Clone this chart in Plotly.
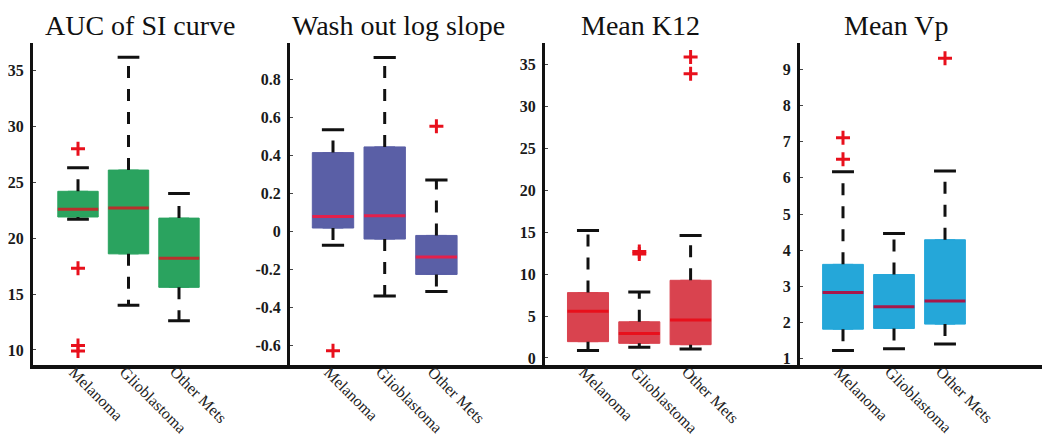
import plotly.graph_objects as go

W, H = 1050, 437

categories = ["Melanoma", "Glioblastoma", "Other Mets"]
titles = ["AUC of SI curve", "Wash out log slope", "Mean K12", "Mean Vp"]

# per-panel box statistics (one value per category)
auc_q1 = [21.9, 18.6, 15.6]
auc_med = [22.6, 22.7, 18.2]
auc_q3 = [24.2, 26.1, 21.8]
auc_lo = [21.7, 14.0, 12.6]
auc_hi = [26.3, 36.2, 24.0]
auc_out = [[28.0, 17.3, 10.4, 9.9], [], []]

wash_q1 = [0.018, -0.04, -0.226]
wash_med = [0.079, 0.082, -0.134]
wash_q3 = [0.414, 0.444, -0.021]
wash_lo = [-0.073, -0.339, -0.316]
wash_hi = [0.534, 0.913, 0.27]
wash_out = [[-0.626], [], [0.552]]

k12_q1 = [1.94, 1.74, 1.58]
k12_med = [5.58, 2.92, 4.51]
k12_q3 = [7.79, 4.31, 9.26]
k12_lo = [0.87, 1.26, 1.07]
k12_hi = [15.19, 7.87, 14.6]
k12_out = [[], [12.4, 12.7], [35.9, 33.9]]

vp_q1 = [1.82, 1.84, 1.96]
vp_med = [2.83, 2.44, 2.6]
vp_q3 = [3.61, 3.33, 4.29]
vp_lo = [1.23, 1.28, 1.41]
vp_hi = [6.17, 4.46, 6.19]
vp_out = [[7.11, 6.51], [], [9.30]]

panels = [
    dict(q1=auc_q1, med=auc_med, q3=auc_q3, lo=auc_lo, hi=auc_hi, out=auc_out,
         fill="#2aa35f", median="#b8302c", yrange=[8.69, 37.5],
         tickvals=[10, 15, 20, 25, 30, 35], ticktext=["10", "15", "20", "25", "30", "35"],
         px=(25, 282), x0=70, unit=50.5, tcx=132),
    dict(q1=wash_q1, med=wash_med, q3=wash_q3, lo=wash_lo, hi=wash_hi, out=wash_out,
         fill="#5a5fa6", median="#e3204c", yrange=[-0.699, 0.991],
         tickvals=[-0.6, -0.4, -0.2, 0, 0.2, 0.4, 0.6, 0.8],
         ticktext=["-0.6", "-0.4", "-0.2", "0", "0.2", "0.4", "0.6", "0.8"],
         px=(282, 537), x0=325, unit=51.7, tcx=390),
    dict(q1=k12_q1, med=k12_med, q3=k12_q3, lo=k12_lo, hi=k12_hi, out=k12_out,
         fill="#d9434f", median="#e8101c", yrange=[-0.79, 37.6],
         tickvals=[0, 5, 10, 15, 20, 25, 30, 35], ticktext=["0", "5", "10", "15", "20", "25", "30", "35"],
         px=(537, 792), x0=580, unit=51.3, tcx=632),
    dict(q1=vp_q1, med=vp_med, q3=vp_q3, lo=vp_lo, hi=vp_hi, out=vp_out,
         fill="#25a7d9", median="#a8174a", yrange=[0.844, 9.73],
         tickvals=[1, 2, 3, 4, 5, 6, 7, 8, 9], ticktext=[str(v) for v in range(1, 10)],
         px=(792, 1040), x0=835, unit=51.0, tcx=888),
]

BOX_W = 0.8
CAP_W = 0.43
ydom = [1 - 359 / H, 1 - 35 / H]
SERIF = "Liberation Serif, Times New Roman, serif"

fig = go.Figure()
layout = dict(width=W, height=H, margin=dict(l=0, r=0, t=0, b=0),
              paper_bgcolor="white", plot_bgcolor="white", showlegend=False,
              boxmode="overlay", annotations=[])

for i, p in enumerate(panels):
    n = i + 1
    xa = "x" if n == 1 else f"x{n}"
    ya = "y" if n == 1 else f"y{n}"
    xs = list(range(len(categories)))

    # whiskers (dashed)
    wx, wy = [], []
    for k in xs:
        wx += [k, k, None, k, k, None]
        wy += [p["q3"][k], p["hi"][k], None, p["q1"][k], p["lo"][k], None]
    fig.add_trace(go.Scatter(x=wx, y=wy, mode="lines", xaxis=xa, yaxis=ya,
                             line=dict(color="#111111", width=3, dash="12px,11px"),
                             hoverinfo="skip"))
    # caps
    cx, cy = [], []
    for k in xs:
        for v in (p["hi"][k], p["lo"][k]):
            cx += [k - CAP_W / 2, k + CAP_W / 2, None]
            cy += [v, v, None]
    fig.add_trace(go.Scatter(x=cx, y=cy, mode="lines", xaxis=xa, yaxis=ya,
                             line=dict(color="#111111", width=3), hoverinfo="skip"))
    # boxes
    fig.add_trace(go.Box(x=xs, q1=p["q1"], median=p["q1"], q3=p["q3"],
                         lowerfence=p["q1"], upperfence=p["q3"],
                         width=BOX_W, fillcolor=p["fill"],
                         line=dict(color=p["fill"], width=1),
                         xaxis=xa, yaxis=ya, hoverinfo="skip"))
    # median lines
    mx, my = [], []
    for k in xs:
        mx += [k - BOX_W / 2, k + BOX_W / 2, None]
        my += [p["med"][k], p["med"][k], None]
    fig.add_trace(go.Scatter(x=mx, y=my, mode="lines", xaxis=xa, yaxis=ya,
                             line=dict(color=p["median"], width=3), hoverinfo="skip"))
    # outliers
    ox, oy = [], []
    for k in xs:
        for v in p["out"][k]:
            ox.append(k)
            oy.append(v)
    if ox:
        fig.add_trace(go.Scatter(x=ox, y=oy, mode="markers", xaxis=xa, yaxis=ya,
                                 marker=dict(symbol="cross-thin", size=10,
                                             line=dict(color="#e8101c", width=3)),
                                 hoverinfo="skip"))

    l_px, r_px = p["px"]
    left = -(p["x0"] - l_px) / p["unit"]
    right = left + (r_px - l_px) / p["unit"]
    layout["xaxis" if n == 1 else f"xaxis{n}"] = dict(
        domain=[l_px / W, r_px / W], range=[left, right], anchor=ya,
        tickvals=xs, ticktext=categories, showticklabels=False,
        showline=True, linecolor="#111111", linewidth=4, showgrid=False, zeroline=False,
        ticks="", fixedrange=True)
    layout["yaxis" if n == 1 else f"yaxis{n}"] = dict(
        domain=ydom, range=p["yrange"], anchor=xa,
        tickvals=p["tickvals"], ticktext=p["ticktext"],
        showline=True, linecolor="#111111", linewidth=3, showgrid=False, zeroline=False,
        ticks="inside", ticklen=3, tickcolor="#444444", ticklabelstandoff=3,
        tickfont=dict(family=SERIF, size=16, color="#1a1a1a", weight=700),
        fixedrange=True)
    # rotated category labels below the axis
    for k, name in enumerate(categories):
        layout["annotations"].append(dict(
            text=name, x=k, xref=xa, y=1 - 355 / H, yref="paper",
            xanchor="left", yanchor="top", xshift=-15, textangle=45, showarrow=False,
            font=dict(family=SERIF, size=16, color="#222222")))
    layout["annotations"].append(dict(
        text=titles[i], x=p["tcx"] / W, y=1, xref="paper", yref="paper",
        xanchor="center", yanchor="top", showarrow=False,
        font=dict(family=SERIF, size=28, color="#111111")))

fig.update_layout(**layout)
fig.write_html("out.html")
